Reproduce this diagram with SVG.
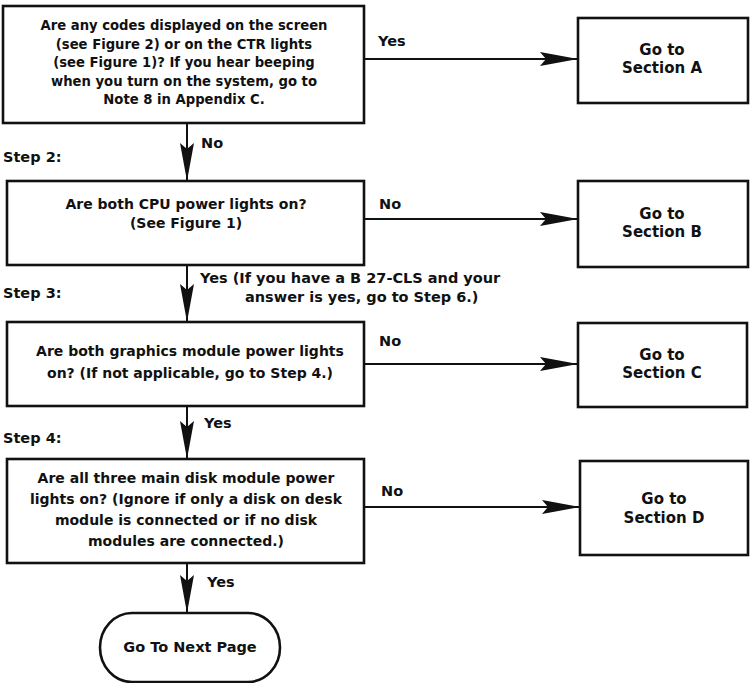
<svg xmlns="http://www.w3.org/2000/svg" width="750" height="683" viewBox="0 0 750 683">
<style>
.box{fill:#fff;stroke:#111;stroke-width:2.6}
.ln{fill:none;stroke:#111;stroke-width:2}
text{font-family:"DejaVu Sans","Liberation Sans",Arial,sans-serif;font-weight:bold;font-size:14.5px;fill:#111}
.q{font-size:14px}
.q1{font-size:13.2px}
.s{font-size:15px}
.c{text-anchor:middle}
</style>
<defs>
<marker id="ah" markerUnits="userSpaceOnUse" viewBox="-40 -8 41 16" markerWidth="41" markerHeight="16" refX="0" refY="0" orient="auto">
<path d="M0,0 L-38,-7 L-32,0 L-38,7 Z" fill="#111"/>
</marker>
</defs>
<rect width="750" height="683" fill="#fff"/>
<g id="connectors">
<line class="ln" x1="364" y1="59" x2="578" y2="59" marker-end="url(#ah)"/>
<line class="ln" x1="187" y1="123" x2="187" y2="181" marker-end="url(#ah)"/>
<line class="ln" x1="364" y1="219" x2="578" y2="219" marker-end="url(#ah)"/>
<line class="ln" x1="187" y1="265" x2="187" y2="322" marker-end="url(#ah)"/>
<line class="ln" x1="364" y1="364" x2="578" y2="364" marker-end="url(#ah)"/>
<line class="ln" x1="187" y1="406" x2="187" y2="459" marker-end="url(#ah)"/>
<line class="ln" x1="364" y1="507" x2="580" y2="507" marker-end="url(#ah)"/>
<line class="ln" x1="187" y1="563" x2="187" y2="613" marker-end="url(#ah)"/>
<text x="378" y="46">Yes</text>
<text x="201" y="148">No</text>
<text x="379" y="209">No</text>
<text x="200" y="283">Yes (If you have a B 27-CLS and your</text>
<text x="245" y="302">answer is yes, go to Step 6.)</text>
<text x="379" y="346">No</text>
<text x="204" y="428">Yes</text>
<text x="381" y="496">No</text>
<text x="207" y="587">Yes</text>
</g>
<g id="labels">
<text x="3" y="162">Step 2:</text>
<text x="3" y="298">Step 3:</text>
<text x="3" y="443">Step 4:</text>
</g>
<g id="q1">
<rect class="box" x="3" y="6" width="361" height="117"/>
<text class="c q1" x="184" y="30">Are any codes displayed on the screen</text>
<text class="c q1" x="184" y="48.5">(see Figure 2) or on the CTR lights</text>
<text class="c q1" x="184" y="67">(see Figure 1)? If you hear beeping</text>
<text class="c q1" x="184" y="85.5">when you turn on the system, go to</text>
<text class="c q1" x="184" y="104">Note 8 in Appendix C.</text>
</g>
<g id="secA">
<rect class="box" x="578" y="18" width="170" height="85"/>
<text class="c s" x="662" y="55">Go to</text>
<text class="c s" x="662" y="73">Section A</text>
</g>
<g id="q2">
<rect class="box" x="7" y="181" width="357" height="84"/>
<text class="c q" x="186" y="209">Are both CPU power lights on?</text>
<text class="c q" x="186" y="228">(See Figure 1)</text>
</g>
<g id="secB">
<rect class="box" x="578" y="181" width="170" height="86"/>
<text class="c s" x="662" y="219">Go to</text>
<text class="c s" x="662" y="237">Section B</text>
</g>
<g id="q3">
<rect class="box" x="7" y="322" width="357" height="84"/>
<text class="c q" x="190" y="356">Are both graphics module power lights</text>
<text class="c q" x="190" y="378">on? (If not applicable, go to Step 4.)</text>
</g>
<g id="secC">
<rect class="box" x="578" y="323" width="169" height="84"/>
<text class="c s" x="662" y="360">Go to</text>
<text class="c s" x="662" y="378">Section C</text>
</g>
<g id="q4">
<rect class="box" x="7" y="459" width="357" height="104"/>
<text class="c q" x="186" y="483">Are all three main disk module power</text>
<text class="c q" x="186" y="504">lights on? (Ignore if only a disk on desk</text>
<text class="c q" x="186" y="525">module is connected or if no disk</text>
<text class="c q" x="186" y="546">modules are connected.)</text>
</g>
<g id="secD">
<rect class="box" x="580" y="461" width="168" height="94"/>
<text class="c s" x="664" y="504">Go to</text>
<text class="c s" x="664" y="523">Section D</text>
</g>
<g id="next">
<path class="box" d="M132,613 H248 A32,34.5 0 0 1 248,682 H132 A32,34.5 0 0 1 132,613 Z"/>
<text class="c" x="190" y="652">Go To Next Page</text>
</g>
</svg>
